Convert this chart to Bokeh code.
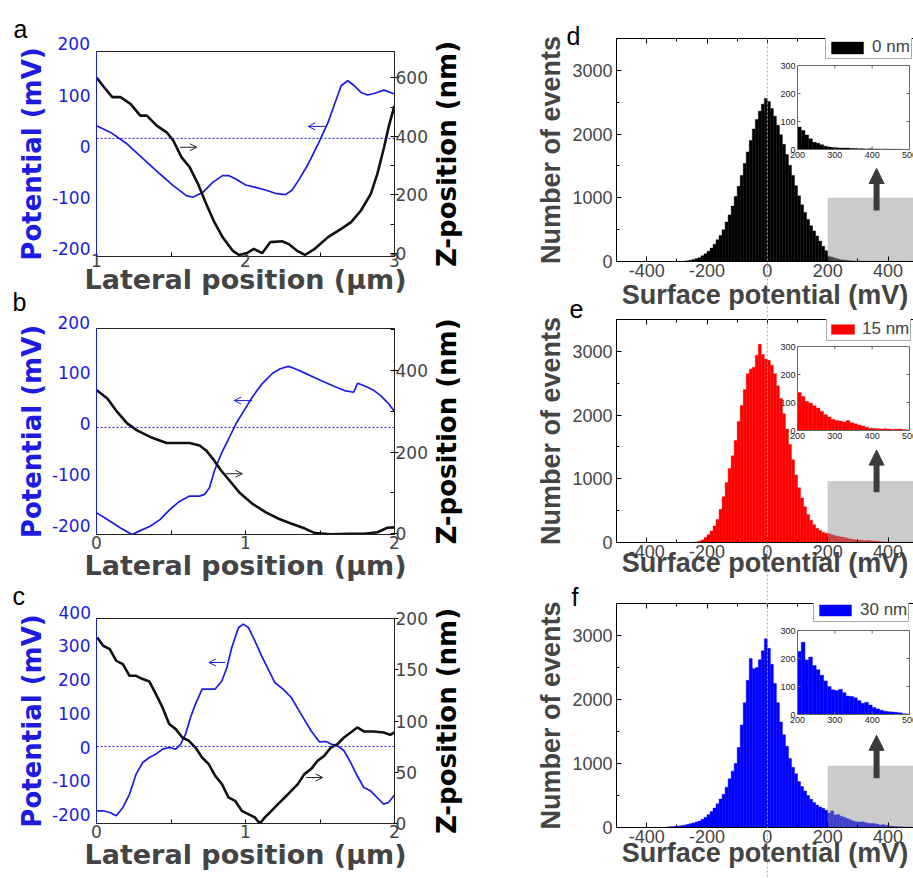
import math
from bokeh.plotting import figure
from bokeh.layouts import column
from bokeh.models import (Range1d, LinearAxis, SingleIntervalTicker, FixedTicker, Span, Title, GridBox,
                          Arrow, OpenHead, NormalHead, Legend, LegendItem, CustomJSTickFormatter,
                          PrintfTickFormatter)
from bokeh.embed import file_html
from bokeh.resources import INLINE
from bokeh.core.properties import value

# ---------------- line profiles (panels a, b, c) ----------------
a_pot_x = [1.00, 1.095, 1.206, 1.316, 1.426, 1.515, 1.603, 1.647, 1.714, 1.780, 1.846, 1.890, 1.935, 2.001,
           2.068, 2.134, 2.200, 2.267, 2.310, 2.355, 2.421, 2.487, 2.554, 2.598, 2.642, 2.686, 2.731, 2.775,
           2.819, 2.863, 2.930, 3.000]
a_pot_mv = [24.8, 11.7, -11.0, -40.3, -69.6, -92.3, -111.8, -115.0, -105.4, -85.9, -72.8, -72.8, -79.3, -91.0,
            -95.6, -100.8, -107.3, -109.9, -102.0, -82.5, -50.0, -11.0, 31.2, 67.1, 102.8, 112.6, 102.8, 89.8,
            84.7, 87.8, 94.4, 86.6]
a_z_x = [1.002, 1.051, 1.106, 1.161, 1.228, 1.294, 1.338, 1.404, 1.471, 1.515, 1.570, 1.625, 1.681, 1.736,
         1.791, 1.846, 1.913, 1.957, 2.012, 2.056, 2.112, 2.167, 2.244, 2.288, 2.344, 2.399, 2.465, 2.554,
         2.642, 2.709, 2.775, 2.841, 2.885, 2.930, 2.963, 3.000]
a_z_nm = [600, 568, 534, 534, 511, 471, 471, 437, 414, 386, 329, 295, 238, 170, 107, 56, 10, -5, 2, 16, 1, 39,
          42, 33, 10, -5, 16, 56, 84, 107, 147, 204, 272, 363, 437, 505]

b_pot_x = [0.002, 0.073, 0.161, 0.239, 0.294, 0.360, 0.426, 0.493, 0.559, 0.625, 0.692, 0.725, 0.758, 0.791,
           0.836, 0.891, 0.935, 0.990, 1.045, 1.111, 1.178, 1.233, 1.288, 1.333, 1.399, 1.466, 1.532, 1.598,
           1.664, 1.726, 1.753, 1.775, 1.819, 1.863, 1.907, 1.952, 2.000]
b_pot_mv = [-167.3, -180.4, -196.9, -209.8, -202.0, -193.5, -180.4, -160.6, -144.3, -134.4, -134.4, -131.1,
            -118.1, -85.2, -52.4, -19.7, 6.7, 32.9, 59.1, 85.4, 105.1, 115.0, 119.5, 115.0, 106.3, 97.2, 88.6,
            80.1, 72.2, 68.9, 86.6, 84.1, 78.7, 72.2, 62.4, 49.2, 31.5]
b_z_x = [0.002, 0.073, 0.139, 0.206, 0.272, 0.360, 0.471, 0.559, 0.625, 0.692, 0.736, 0.780, 0.836, 0.891,
         0.957, 1.045, 1.134, 1.222, 1.310, 1.399, 1.466, 1.576, 1.687, 1.797, 1.886, 1.952, 2.000]
b_z_nm = [351, 331, 298, 270, 253, 237, 222, 222, 222, 216, 204, 184, 155, 131, 102, 74, 53, 37, 25, 13, 2, -1,
          0, 0, 4, 15, 16]

c_pot_x = [0.005, 0.045, 0.089, 0.133, 0.177, 0.222, 0.266, 0.310, 0.355, 0.399, 0.443, 0.488, 0.532, 0.565,
           0.598, 0.631, 0.664, 0.709, 0.753, 0.797, 0.842, 0.875, 0.908, 0.953, 0.986, 1.019, 1.063, 1.108,
           1.152, 1.196, 1.252, 1.307, 1.373, 1.440, 1.495, 1.540, 1.573, 1.617, 1.661, 1.706, 1.750, 1.794,
           1.839, 1.883, 1.927, 1.960, 2.000]
c_pot_mv = [-190.3, -190.3, -195.3, -205.1, -180.5, -140.9, -81.7, -47.4, -32.6, -22.5, -7.7, -3.0, -7.7, 7.1,
            36.7, 85.8, 125.5, 169.9, 169.9, 169.9, 194.4, 233.8, 293.0, 352.2, 362.2, 352.2, 312.8, 268.4,
            229.1, 189.4, 169.9, 145.0, 95.9, 46.5, 13.9, 14.8, 7.1, 2.1, -12.7, -47.4, -86.7, -121.3, -131.1,
            -150.9, -170.5, -165.7, -143.8]
c_z_x = [0.005, 0.045, 0.089, 0.133, 0.177, 0.222, 0.266, 0.310, 0.355, 0.399, 0.443, 0.488, 0.532, 0.576,
         0.620, 0.664, 0.709, 0.753, 0.797, 0.842, 0.886, 0.930, 0.975, 1.019, 1.063, 1.096, 1.130, 1.174,
         1.218, 1.263, 1.307, 1.351, 1.395, 1.440, 1.484, 1.528, 1.573, 1.617, 1.661, 1.706, 1.750, 1.794,
         1.861, 1.927, 1.971, 2.000]
c_z_nm = [181.5, 173.4, 170.1, 158.7, 155.5, 144.1, 144.1, 140.9, 138.5, 126.2, 113.2, 97.0, 92.1, 83.9, 80.7,
          74.1, 64.4, 57.9, 46.5, 38.4, 25.4, 22.1, 12.4, 9.2, 5.9, 0.0, 5.9, 12.4, 18.9, 25.4, 31.9, 38.4, 48.2,
          53.1, 61.2, 66.0, 74.1, 77.5, 83.9, 88.8, 93.7, 89.8, 89.8, 88.8, 86.5, 88.8]

pot_ticks_ab = [-200, -100, 0, 100, 200]
pot_ticks_c = [-200, -100, 0, 100, 200, 300, 400]

# ---------------- histograms (panels d, e, f) ----------------
bin_left = list(range(-350, 500, 10))   # 10 mV bins
bin_width = 10
counts_0nm = [0, 0, 0, 0, 0, 0, 0,
              5, 10, 20, 30, 45, 60, 90, 120, 160, 210,
              270, 340, 410, 500, 620, 730, 870, 1020, 1180, 1350,
              1540, 1720, 1900, 2080, 2230, 2360, 2470, 2560, 2510, 2400,
              2280, 2140, 1990, 1840, 1680, 1510, 1350, 1190, 1030, 890,
              770, 660, 560, 480, 400, 320, 240, 170,
              80, 68, 52, 38, 26, 22, 17, 12, 9, 7,
              6, 5, 5, 5, 4, 4, 3, 3, 2, 3,
              2, 2, 1, 2, 1, 1, 1, 1, 0, 0]
counts_15nm = [0, 0, 0, 0, 0, 0, 0, 0, 0, 0,
               3, 8, 20, 40, 80, 120, 180, 260, 360, 520,
               720, 940, 1160, 1360, 1600, 1900, 2150, 2400, 2650, 2720,
               2750, 2940, 3110, 2950, 2880, 2860, 2780, 2650, 2460, 2260,
               2020, 1780, 1540, 1300, 1060, 860, 700, 560, 440, 350,
               280, 225, 190, 160, 145,
               136, 121, 104, 98, 88, 80, 68, 56, 48, 40,
               36, 34, 30, 36, 28, 24, 20, 16, 12, 8,
               7, 6, 5, 6, 5, 4, 5, 5, 4, 2]
counts_30nm = [0, 6, 10, 14, 18, 22, 28, 36, 45, 58,
               70, 85, 100, 130, 160, 200, 250, 305, 370, 445,
               520, 630, 760, 880, 1000, 1250, 1600, 1950, 2300, 2640,
               2480, 2500, 2620, 2760, 2950, 2800, 2550, 2250, 1950, 1650,
               1450, 1270, 1080, 940, 840, 720, 640, 570, 500, 440,
               390, 350, 320, 300, 270,
               225, 258, 195, 205, 175, 160, 140, 120, 100, 88,
               86, 90, 78, 66, 64, 60, 50, 40, 44, 34,
               25, 20, 15, 12, 10, 9, 8, 6, 3, 2]
legend_labels = ["0 nm", "15 nm", "30 nm"]
zoom_window_mv = [200, 500]
zoom_box_top = [1000, 965, 965]
inset_x_ticks = [200, 300, 400, 500]
inset_y_ticks = [0, 100, 200, 300]

panel_letters = ["a", "b", "c", "d", "e", "f"]

# ---------------- styling / layout ----------------
PAGE_W, PAGE_H = 913, 878
LEFT_W, RIGHT_W = 490, 423
BLUE_L = "#1c1ce0"
FONT_L = "DejaVu Sans"
FONT_R = "Liberation Sans"
INT_FMT = "%d"


def profile_panel(cfg):
    p = figure(width=LEFT_W, height=cfg["h"], x_range=Range1d(*cfg["xr"]), y_range=Range1d(*cfg["pot_r"]),
               y_axis_location=None, toolbar_location=None, output_backend="svg",
               min_border_left=cfg["bl"], min_border_right=cfg["br"],
               min_border_top=cfg["bt"], min_border_bottom=cfg["bb"])
    p.grid.visible = False
    p.outline_line_color = "#222222"
    p.background_fill_color = "white"
    p.border_fill_color = "white"
    p.extra_y_ranges = {"lbl": Range1d(*cfg["lbl_r"]), "z": Range1d(*cfg["z_r"])}

    xa = p.xaxis[0]
    xa.ticker = SingleIntervalTicker(interval=1, num_minor_ticks=2)
    xa.major_tick_in = 0
    xa.major_tick_out = 0
    xa.minor_tick_in = 4
    xa.minor_tick_out = 0
    xa.axis_line_color = "#222222"
    xa.major_label_text_font = FONT_L
    xa.major_label_text_font_size = "17px"
    xa.major_label_standoff = cfg["x_ts"]
    xa.axis_label = "Lateral position (\u03bcm)"
    xa.axis_label_text_font = FONT_L
    xa.axis_label_text_font_style = "bold"
    xa.axis_label_text_font_size = "27px"
    xa.axis_label_standoff = cfg["x_als"]

    lo, hi = cfg["lbl_r"]
    la = LinearAxis(y_range_name="lbl", ticker=FixedTicker(ticks=cfg["pot_ticks"]),
                    formatter=PrintfTickFormatter(format=INT_FMT))
    la.major_tick_in = 0
    la.major_tick_out = 0
    la.axis_line_color = BLUE_L
    la.major_label_text_font = FONT_L
    la.major_label_text_font_size = "17px"
    la.major_label_text_color = BLUE_L
    la.major_label_standoff = 6
    la.axis_label = "Potential (mV)"
    la.axis_label_text_font = FONT_L
    la.axis_label_text_font_style = "bold"
    la.axis_label_text_font_size = "26px"
    la.axis_label_text_color = BLUE_L
    la.axis_label_standoff = 2
    p.add_layout(la, "left")
    # the top tick value is printed just above the frame (outside the axis range), as in the original
    for t in cfg["pot_ticks"]:
        if t > hi:
            p.add_layout(Title(text=str(t), align="left", offset=cfg["top_tick_off"], standoff=cfg["top_tick_so"],
                               text_font=FONT_L, text_font_size="17px", text_font_style="normal",
                               text_color=BLUE_L), "above")

    za = LinearAxis(y_range_name="z", ticker=SingleIntervalTicker(interval=cfg["z_int"],
                                                                   num_minor_ticks=cfg["z_minor"]))
    za.major_tick_out = 4
    za.major_tick_in = 0
    za.minor_tick_in = 4
    za.minor_tick_out = 0
    za.axis_line_color = "#222222"
    za.major_label_text_font = FONT_L
    za.major_label_text_font_size = "17px"
    za.major_label_standoff = -3
    p.add_layout(za, "right")

    p.add_layout(Span(location=0, dimension="width", line_color=BLUE_L, line_dash="2 2", line_width=1))
    p.line(cfg["px"], cfg["py"], line_color=BLUE_L, line_width=1.7)
    p.line(cfg["zx"], cfg["zy"], line_color="#111111", line_width=2.6, y_range_name="z")

    bx0, bx1, by = cfg["blue_arrow"]
    p.add_layout(Arrow(x_start=bx0, y_start=by, x_end=bx1, y_end=by, line_color=BLUE_L, line_width=1,
                       end=OpenHead(size=7, line_color=BLUE_L, line_width=1)))
    kx0, kx1, ky = cfg["black_arrow"]
    p.add_layout(Arrow(x_start=kx0, y_start=ky, x_end=kx1, y_end=ky, y_range_name="z", line_color="#222222",
                       line_width=1, end=OpenHead(size=7, line_color="#222222", line_width=1)))
    return p


profiles = [
    dict(h=306, bt=51, bb=50, bl=96, br=93, xr=(1, 3), pot_r=(-230.8, 169.8), lbl_r=(-215.4, 185.2),
         z_r=(-10.2, 690), z_int=200, z_minor=2, pot_ticks=pot_ticks_ab, x_ts=-3, x_als=-6,
         top_tick_off=-39, top_tick_so=3,
         px=a_pot_x, py=a_pot_mv, zx=a_z_x, zy=a_z_nm,
         blue_arrow=(2.535, 2.421, 23.4), black_arrow=(1.56, 1.673, 363)),
    dict(h=291, bt=22, bb=63, bl=96, br=93, xr=(0, 2), pot_r=(-209.6, 193.7), lbl_r=(-217.9, 187.0),
         z_r=(-1.5, 502), z_int=200, z_minor=2, pot_ticks=pot_ticks_ab, x_ts=1, x_als=-2,
         top_tick_off=-39, top_tick_so=0,
         px=b_pot_x, py=b_pot_mv, zx=b_z_x, zy=b_z_nm,
         blue_arrow=(1.045, 0.924, 52.6), black_arrow=(0.869, 0.979, 147)),
    dict(h=281, bt=21, bb=55, bl=93, br=96, xr=(0, 2), pot_r=(-227.9, 378.8), lbl_r=(-225.8, 380.9),
         z_r=(0, 200), z_int=50, z_minor=0, pot_ticks=pot_ticks_c, x_ts=1, x_als=-2,
         top_tick_off=-38, top_tick_so=-1,
         px=c_pot_x, py=c_pot_mv, zx=c_z_x, zy=c_z_nm,
         blue_arrow=(0.864, 0.754, 248.6), black_arrow=(1.407, 1.518, 44.9)),
]

HB_LEFT = 126
HFW = RIGHT_W - HB_LEFT            # frame width of histogram panels (px)
X_START = -500
X_END = X_START + HFW / 0.3017     # frame is cut at the window edge, as in the original
INS_L, INS_R, INS_T, INS_B = 181, 293, 27, 111   # inset box inside the frame (px)


def hist_panel(cfg, counts, color, label, ztop):
    fh = cfg["h"] - cfg["bt"] - cfg["bb"]
    p = figure(width=RIGHT_W, height=cfg["h"], x_range=Range1d(X_START, X_END), y_range=Range1d(0, 3500),
               toolbar_location=None, output_backend="svg",
               min_border_left=HB_LEFT, min_border_right=0, min_border_top=cfg["bt"],
               min_border_bottom=cfg["bb"])
    p.grid.visible = False
    p.outline_line_color = None
    p.background_fill_color = "white"
    p.border_fill_color = "white"

    xa = p.xaxis[0]
    xa.ticker = SingleIntervalTicker(interval=200, num_minor_ticks=2)
    xa.formatter = PrintfTickFormatter(format=INT_FMT)
    xa.major_tick_in = 5
    xa.major_tick_out = 0
    xa.minor_tick_in = 3
    xa.minor_tick_out = 0
    xa.major_label_text_font = FONT_R
    xa.major_label_text_font_size = "18px"
    xa.major_label_standoff = 2
    xa.axis_label = "Surface potential (mV)"
    xa.axis_label_text_font = FONT_R
    xa.axis_label_text_font_style = "bold"
    xa.axis_label_text_font_size = "27px"
    xa.axis_label_standoff = cfg["x_als"]

    ya = p.yaxis[0]
    ya.ticker = SingleIntervalTicker(interval=1000, num_minor_ticks=2)
    ya.major_tick_in = 5
    ya.major_tick_out = 0
    ya.minor_tick_in = 3
    ya.minor_tick_out = 0
    ya.major_label_text_font = FONT_R
    ya.major_label_text_font_size = "18px"
    ya.major_label_standoff = 4
    ya.axis_label = "Number of events"
    ya.axis_label_text_font = FONT_R
    ya.axis_label_text_font_style = "bold"
    ya.axis_label_text_font_size = "27px"
    ya.axis_label_standoff = 3

    ta = LinearAxis(ticker=SingleIntervalTicker(interval=200, num_minor_ticks=2),
                    formatter=CustomJSTickFormatter(code="return ''"))
    ta.major_tick_in = 5
    ta.major_tick_out = 0
    ta.minor_tick_in = 3
    ta.minor_tick_out = 0
    ta.major_label_standoff = 0
    p.add_layout(ta, "above")

    rights = [b + bin_width for b in bin_left]
    bars = p.quad(left=bin_left, right=rights, bottom=0, top=counts, fill_color=color, line_color=color,
                  line_width=0.4)
    p.quad(left=[zoom_window_mv[0]], right=[zoom_window_mv[1]], bottom=[0], top=[ztop],
           fill_color="#8c8c8c", fill_alpha=0.45, line_color=None)

    ax, ay0, ay1 = cfg["arrow"]
    p.add_layout(Arrow(x_start=ax, y_start=ay0, x_end=ax, y_end=ay1, line_color="#3c3c3c", line_width=6,
                       end=NormalHead(size=15, fill_color="#3c3c3c", line_color="#3c3c3c")))

    # inset (zoom of the 200-500 mV tail), placed through its own ranges
    sx = (zoom_window_mv[1] - zoom_window_mv[0]) / (INS_R - INS_L)
    sy = (inset_y_ticks[-1] - inset_y_ticks[0]) / (INS_B - INS_T)
    p.extra_x_ranges = {"ix": Range1d(zoom_window_mv[0] - INS_L * sx, zoom_window_mv[0] + (HFW - INS_L) * sx)}
    p.extra_y_ranges = {"iy": Range1d(-(fh - INS_B) * sy, inset_y_ticks[-1] + INS_T * sy)}
    kw = dict(x_range_name="ix", y_range_name="iy")
    ix0, ix1 = zoom_window_mv
    iy1 = inset_y_ticks[-1]
    p.quad(left=[ix0], right=[ix1], bottom=[0], top=[iy1], fill_color="white", line_color=None, **kw)
    tl = [b for b in bin_left if b >= ix0]
    tc = [c for b, c in zip(bin_left, counts) if b >= ix0]
    p.quad(left=tl, right=[b + bin_width for b in tl], bottom=0, top=tc, fill_color=color, line_color=color,
           line_width=0.4, **kw)
    p.quad(left=[ix0], right=[ix1], bottom=[0], top=[iy1], fill_color=None, line_color="#666666",
           line_width=1, **kw)
    tick_len_x = 3 * sy
    tick_len_y = 3 * sx
    mx = inset_x_ticks[1:-1]
    my = inset_y_ticks[1:-1]
    p.segment(x0=mx, y0=[0] * len(mx), x1=mx, y1=[tick_len_x] * len(mx), line_color="#666666", **kw)
    p.segment(x0=mx, y0=[iy1] * len(mx), x1=mx, y1=[iy1 - tick_len_x] * len(mx), line_color="#666666", **kw)
    p.segment(x0=[ix0] * len(my), y0=my, x1=[ix0 + tick_len_y] * len(my), y1=my, line_color="#666666", **kw)
    p.segment(x0=[ix1] * len(my), y0=my, x1=[ix1 - tick_len_y] * len(my), y1=my, line_color="#666666", **kw)
    p.text(x=[ix0] * len(inset_y_ticks), y=inset_y_ticks, text=[str(v) for v in inset_y_ticks],
           x_offset=-2, text_align="right", text_baseline="middle", text_font=value(FONT_R),
           text_font_size=value("9px"), text_color="#222222", **kw)
    p.text(x=inset_x_ticks, y=[0] * len(inset_x_ticks), text=[str(v) for v in inset_x_ticks],
           y_offset=2, text_align="center", text_baseline="top", text_font=value(FONT_R),
           text_font_size=value("9px"), text_color="#222222", **kw)

    lx, ly, gw, gh = cfg["leg"]
    leg = Legend(items=[LegendItem(label=label, renderers=[bars])], location=(lx, ly),
                 glyph_width=gw, glyph_height=gh, label_height=14, padding=1, margin=0, spacing=0,
                 label_standoff=5, label_text_font=FONT_R, label_text_font_size="17px",
                 border_line_color="#555555", border_line_width=1, background_fill_color="white",
                 background_fill_alpha=1)
    p.add_layout(leg)
    return p


hist_cfg = [
    dict(h=313, bt=38, bb=52, x_als=0, leg=(209, 202, 40, 15), arrow=(362, 800, 1460)),
    dict(h=285, bt=6, bb=56, x_als=-13, leg=(210, 201, 29, 12), arrow=(362, 790, 1450)),
    dict(h=280, bt=5, bb=51, x_als=-8, leg=(197, 205, 40, 14), arrow=(362, 770, 1440)),
]
hist_counts = [counts_0nm, counts_15nm, counts_30nm]
hist_colors = ["#000000", "#ff0000", "#0000ff"]

left = column(*[profile_panel(c) for c in profiles])
right = column(*[hist_panel(c, n, col, lab, zt) for c, n, col, lab, zt in
                 zip(hist_cfg, hist_counts, hist_colors, legend_labels, zoom_box_top)])

# transparent page-size layer for the texts/lines that run across panels (page pixel coordinates)
overlay = figure(width=PAGE_W, height=PAGE_H, x_range=Range1d(0, PAGE_W), y_range=Range1d(PAGE_H, 0),
                 x_axis_location=None, y_axis_location=None, toolbar_location=None, output_backend="svg",
                 min_border=0, background_fill_color=None, border_fill_color=None, outline_line_color=None)
overlay.grid.visible = False

# dotted 0 mV guide line running through the three histograms
zero_px = LEFT_W + HB_LEFT + (0 - X_START) * HFW / (X_END - X_START)
overlay.segment(x0=[zero_px], y0=[hist_cfg[0]["bt"]], x1=[zero_px], y1=[PAGE_H], line_color="#a8a8a8",
                line_dash="2 2", line_width=1)

letter_x = [13, 12, 12, 566, 569, 571]
letter_y = [28, 301, 595, 35, 308, 596]
overlay.text(x=letter_x, y=letter_y, text=panel_letters, text_font=value(FONT_R), text_font_size=value("25px"),
             text_align="left", text_baseline="alphabetic", text_color="black")
zlab_x = [446, 446, 446]
zlab_y = [153.5, 431, 720.5]
overlay.text(x=zlab_x, y=zlab_y, text=["Z-position (nm)"] * 3, angle=math.pi / 2, text_align="center",
             text_baseline="alphabetic", text_font=value(FONT_L), text_font_style="bold",
             text_font_size=value("26px"), text_color="black")

layout = GridBox(children=[(left, 0, 0), (right, 0, 1), (overlay, 0, 0, 1, 2)])

open("out.html", "w").write(file_html(layout, INLINE, "Surface potential"))
